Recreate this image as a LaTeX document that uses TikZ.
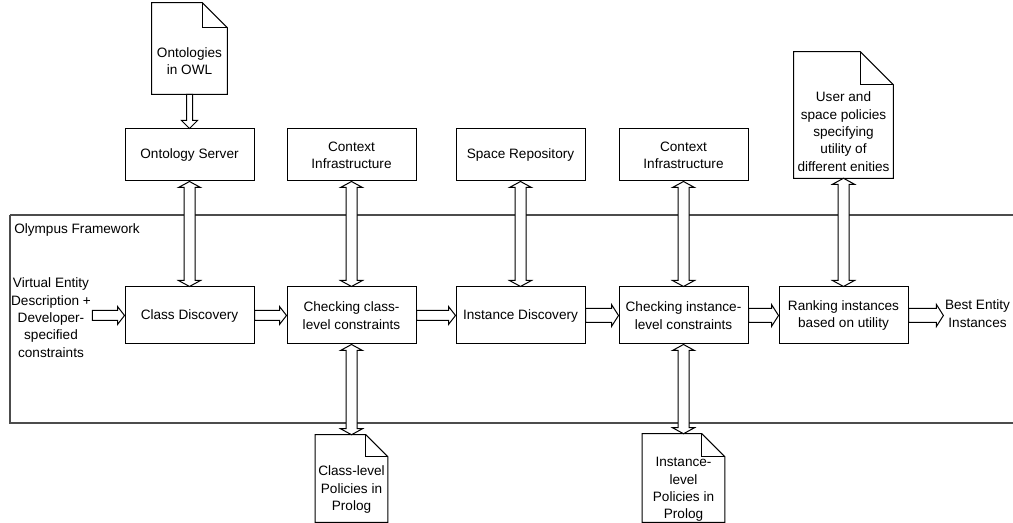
\documentclass[tikz,border=0pt]{standalone}
\usepackage{fontspec}
\setmainfont{Liberation Sans}
\usetikzlibrary{calc}

\newcommand{\px}{0.75pt}
\newcommand{\blkw}{5}
\newcommand{\blkhw}{9}
\newcommand{\blkhl}{7}

\begin{document}
\begin{tikzpicture}[
    x=0.75pt, y=0.75pt,
    font=\fontsize{10.2}{13}\selectfont,
    stepbox/.style={
      draw, line width=0.75pt,
      align=center,
      minimum width=129*\px, minimum height=57*\px,
      inner sep=2pt,
    },
    srcbox/.style={stepbox, minimum height=52*\px},
    docbox/.style={align=center, inner sep=0pt},
    docline/.style={line width=0.75pt, line join=miter},
    fwline/.style={line width=1pt, draw=black!70},
    fwlabel/.style={anchor=west, inner sep=0pt},
    iolabel/.style={align=center, inner sep=1pt},
    slimarrow/.code={\def\blkw{3}\def\blkhw{8}\def\blkhl{8}},
    widearrow/.code={\def\blkw{7}\def\blkhw{11}\def\blkhl{7}},
    linksize/.code={\def\blkw{5.5}\def\blkhw{11}\def\blkhl{6}},
    flowarrow/.style={draw, fill=white, line width=0.75pt, line join=miter,
      to path={let \p1=(\tikztostart), \p2=(\tikztotarget),
                   \n1={atan2(\y2-\y1,\x2-\x1)} in
        ($(\tikztostart)+(\n1+90:\blkw)$)
        -- ($(\tikztotarget)+(\n1+180:\blkhl)+(\n1+90:\blkw)$)
        -- ($(\tikztotarget)+(\n1+180:\blkhl)+(\n1+90:\blkhw)$)
        -- (\tikztotarget)
        -- ($(\tikztotarget)+(\n1+180:\blkhl)+(\n1-90:\blkhw)$)
        -- ($(\tikztotarget)+(\n1+180:\blkhl)+(\n1-90:\blkw)$)
        -- ($(\tikztostart)+(\n1-90:\blkw)$)
        -- cycle}},
    linkarrow/.style={draw, fill=white, line width=0.75pt, line join=miter,
      linksize,
      to path={let \p1=(\tikztostart), \p2=(\tikztotarget),
                   \n1={atan2(\y2-\y1,\x2-\x1)} in
        ($(\tikztostart)+(\n1:\blkhl)+(\n1+90:\blkw)$)
        -- ($(\tikztotarget)+(\n1+180:\blkhl)+(\n1+90:\blkw)$)
        -- ($(\tikztotarget)+(\n1+180:\blkhl)+(\n1+90:\blkhw)$)
        -- (\tikztotarget)
        -- ($(\tikztotarget)+(\n1+180:\blkhl)+(\n1-90:\blkhw)$)
        -- ($(\tikztotarget)+(\n1+180:\blkhl)+(\n1-90:\blkw)$)
        -- ($(\tikztostart)+(\n1:\blkhl)+(\n1-90:\blkw)$)
        -- ($(\tikztostart)+(\n1:\blkhl)+(\n1-90:\blkhw)$)
        -- (\tikztostart)
        -- ($(\tikztostart)+(\n1:\blkhl)+(\n1+90:\blkhw)$)
        -- cycle}},
  ]

  \useasboundingbox (0,0) rectangle (1013,523);

  % -----------------------------------------------------------
  % Framework outline (open on the right)
  % -----------------------------------------------------------
  \coordinate (fwtr) at (1013,308);
  \coordinate (fwtl) at (10,308);
  \coordinate (fwbl) at (10,100);
  \coordinate (fwbr) at (1013,100);
  \draw[fwline] (fwtr) -- (fwtl);
  \draw[fwline] (fwtl) -- (fwbl) -- (fwbr);
  \node[fwlabel] (fwname) at (14,293) {Olympus Framework};

  % -----------------------------------------------------------
  % External services (top row)
  % -----------------------------------------------------------
  \node[srcbox] (srv)  at (189.5,368) {Ontology Server};
  \node[srcbox] (ctxa) at (351.5,368) {Context\\Infrastructure};
  \node[srcbox] (repo) at (520.5,368) {Space Repository};
  \node[srcbox] (ctxb) at (683.5,368) {Context\\Infrastructure};

  % -----------------------------------------------------------
  % Discovery pipeline (bottom row)
  % -----------------------------------------------------------
  \node[stepbox] (cd)   at (189.5,207.5) {Class Discovery};
  \node[stepbox] (ccl)  at (351.5,207.5) {Checking class-\\level constraints};
  \node[stepbox] (id)   at (520.5,207.5) {Instance Discovery};
  \node[stepbox] (cil)  at (683.5,207.5) {Checking instance-\\level constraints};
  \node[stepbox] (rank) at (843.5,207.5) {Ranking instances\\based on utility};

  \node[iolabel] (vin)  at (51,205.5)
        {Virtual Entity\\Description +\\Developer-\\specified\\constraints};
  \node[iolabel] (vout) at (977.5,209.5) {Best Entity\\Instances};

  % -----------------------------------------------------------
  % Documents (body below the folded corner)
  % -----------------------------------------------------------
  \node[docbox, minimum width=75*\px, minimum height=66*\px]
        (owl)  at (189.5,462) {Ontologies\\in OWL};
  \node[docbox, minimum width=99*\px, minimum height=93*\px]
        (upol) at (843.5,391.5)
        {User and\\space policies\\specifying\\utility of\\different enities};
  \node[docbox, minimum width=72*\px, minimum height=65*\px]
        (cpol) at (351.5,33.5) {Class-level\\Policies in\\Prolog};
  \node[docbox, minimum width=82*\px, minimum height=65*\px]
        (ipol) at (683.5,33.5) {Instance-\\level\\Policies in\\Prolog};

  \foreach \d/\f in {owl/25, upol/33, cpol/22, ipol/23}{
    \draw[docline] (\d.south west) -- ([yshift=\f*\px]\d.north west)
      -- ([xshift=-\f*\px, yshift=\f*\px]\d.north east)
      -- (\d.north east) -- (\d.south east) -- cycle;
    \draw[docline] ([xshift=-\f*\px, yshift=\f*\px]\d.north east)
      -- ([xshift=-\f*\px]\d.north east) -- (\d.north east);
  }
  % top edge of the two policy sheets (above the fold line)
  \coordinate (cpoltop) at ([yshift=22*\px]cpol.north);
  \coordinate (ipoltop) at ([yshift=23*\px]ipol.north);

  % -----------------------------------------------------------
  % Block arrows
  % -----------------------------------------------------------
  \draw[flowarrow, slimarrow] (owl.south) to (srv.north);

  \draw[linkarrow] (srv.south)  to (cd.north);
  \draw[linkarrow] (ctxa.south) to (ccl.north);
  \draw[linkarrow] (repo.south) to (id.north);
  \draw[linkarrow] (ctxb.south) to (cil.north);
  \draw[linkarrow] (upol.south) to (rank.north);
  \draw[linkarrow] (ccl.south)  to (cpoltop);
  \draw[linkarrow] (cil.south)  to (ipoltop);

  \coordinate (vinend)  at (vin.east |- cd.west);
  \coordinate (voutend) at (vout.west |- rank.east);

  \draw[flowarrow] (vinend) to (cd.west);
  \draw[flowarrow] (cd.east) to (ccl.west);
  \draw[flowarrow] (ccl.east) to (id.west);
  \draw[flowarrow, widearrow] (id.east) to (cil.west);
  \draw[flowarrow, widearrow] (cil.east) to (rank.west);
  \draw[flowarrow, widearrow] (rank.east) to (voutend);

\end{tikzpicture}
\end{document}
